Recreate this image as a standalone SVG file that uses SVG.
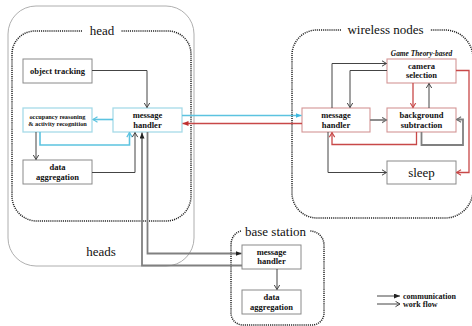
<svg xmlns="http://www.w3.org/2000/svg" width="472" height="326" viewBox="0 0 472 326" font-family="'Liberation Serif', 'DejaVu Serif', 'Times New Roman', serif">
<style>
text{font-family:'Liberation Serif','DejaVu Serif','Times New Roman',serif;fill:#111}
.lbl{font-size:8.5px;font-weight:bold;text-anchor:middle}
.sm{font-size:6.3px;font-weight:bold;text-anchor:middle}
.big{font-size:13px;text-anchor:middle}
.leg{font-size:8px;font-weight:bold}
.gb{fill:#fff;stroke:#8a8a8a;stroke-width:1}
.bb{fill:#fff;stroke:#a6dbe8;stroke-width:1.3}
.pb{fill:#fff;stroke:#d49595;stroke-width:1.1}
.dot{fill:none;stroke:#222;stroke-width:1.5;stroke-dasharray:1.1 1}
.wf{fill:none;stroke:#444;stroke-width:1}
.th{fill:none;stroke:#808080;stroke-width:1.8}
.bl{fill:none;stroke:#5cc3e0;stroke-width:1.6}
.rd{fill:none;stroke:#c84848;stroke-width:1.3}
</style>
<defs>
<marker id="oD" markerUnits="userSpaceOnUse" markerWidth="6" markerHeight="7" refX="5" refY="3.5" orient="auto"><path d="M0.5,0.8 L5,3.5 L0.5,6.2" fill="none" stroke="#444" stroke-width="1"/></marker>
<marker id="oG" markerUnits="userSpaceOnUse" markerWidth="6" markerHeight="7" refX="5" refY="3.5" orient="auto"><path d="M0.5,0.8 L5,3.5 L0.5,6.2" fill="none" stroke="#707070" stroke-width="1.1"/></marker>
<marker id="oB" markerUnits="userSpaceOnUse" markerWidth="6" markerHeight="7" refX="5" refY="3.5" orient="auto"><path d="M0.5,0.8 L5,3.5 L0.5,6.2" fill="none" stroke="#5cc3e0" stroke-width="1.2"/></marker>
<marker id="oR" markerUnits="userSpaceOnUse" markerWidth="6" markerHeight="7" refX="5" refY="3.5" orient="auto"><path d="M0.5,0.8 L5,3.5 L0.5,6.2" fill="none" stroke="#c84848" stroke-width="1.1"/></marker>
<marker id="fD" markerUnits="userSpaceOnUse" markerWidth="6" markerHeight="6" refX="6" refY="2.5" orient="auto"><path d="M0,0 L6,2.5 L0,5 z" fill="#222"/></marker>
<marker id="fB" markerUnits="userSpaceOnUse" markerWidth="6" markerHeight="6" refX="6" refY="2.5" orient="auto"><path d="M0,0 L6,2.5 L0,5 z" fill="#3bb8e0"/></marker>
<marker id="fR" markerUnits="userSpaceOnUse" markerWidth="6" markerHeight="6" refX="6" refY="2.5" orient="auto"><path d="M0,0 L6,2.5 L0,5 z" fill="#c03030"/></marker>
</defs>

<g id="heads">
<rect x="8" y="6" width="186" height="260" rx="28" fill="none" stroke="#9a9a9a" stroke-width="0.8"/>
<text class="big" x="101" y="256">heads</text>
</g>
<g id="head">
<path class="dot" d="M82 31 H35 A23 23 0 0 0 12 54 V196 A25 25 0 0 0 37 221 H166 A25 25 0 0 0 191 196 V54 A23 23 0 0 0 168 31 H121"/>
<text class="big" x="102" y="35">head</text>
</g>
<g id="wireless-nodes">
<path class="dot" d="M341 30 H317 A25 25 0 0 0 292 55 V193 A25 25 0 0 0 317 218 H445 A28 28 0 0 0 473 190 V58 A28 28 0 0 0 445 30 H430"/>
<text class="big" x="385.5" y="34">wireless nodes</text>
</g>
<g id="base-station">
<path class="dot" d="M241 231 A12 14 0 0 0 231 245 V313 A12 12 0 0 0 243 325 H312 A12 12 0 0 0 324 313 V245 A14 14 0 0 0 310 231"/>
<text class="big" x="275.5" y="236">base station</text>
</g>

<g id="object-tracking">
<rect class="gb" x="23" y="59" width="69" height="24"/>
<text class="lbl" x="57.5" y="74">object tracking</text>
</g>
<g id="head-message-handler">
<rect class="bb" x="113" y="108" width="69" height="24"/>
<text class="lbl" x="147.5" y="118">message</text>
<text class="lbl" x="147.5" y="127.5">handler</text>
</g>
<g id="occupancy-reasoning">
<rect class="bb" x="23" y="108" width="69" height="24"/>
<text class="sm" x="57.5" y="119">occupancy reasoning</text>
<text class="sm" x="57.5" y="125.5">&amp; activity recognition</text>
</g>
<g id="head-data-aggregation">
<rect class="gb" x="23" y="160" width="69" height="24"/>
<text class="lbl" x="57.5" y="169.5">data</text>
<text class="lbl" x="57.5" y="179.5">aggregation</text>
</g>

<g id="wireless-message-handler">
<rect class="pb" x="302" y="108" width="68" height="24"/>
<text class="lbl" x="336" y="118">message</text>
<text class="lbl" x="336" y="127.5">handler</text>
</g>
<g id="camera-selection">
<text x="421.5" y="56" style="font-size:7.4px;font-weight:bold;font-style:italic;text-anchor:middle">Game Theory-based</text>
<rect class="pb" x="387" y="59" width="69" height="24"/>
<text class="lbl" x="421.5" y="69">camera</text>
<text class="lbl" x="421.5" y="78">selection</text>
</g>
<g id="background-subtraction">
<rect class="pb" x="387" y="108" width="69" height="24"/>
<text class="lbl" x="421.5" y="118">background</text>
<text class="lbl" x="421.5" y="127.5">subtraction</text>
</g>
<g id="sleep">
<rect class="gb" x="387" y="161" width="69" height="23"/>
<text class="big" x="421.5" y="177">sleep</text>
</g>

<g id="base-message-handler">
<rect class="gb" x="242" y="245" width="59" height="24"/>
<text class="lbl" x="271.5" y="255">message</text>
<text class="lbl" x="271.5" y="263.5">handler</text>
</g>
<g id="base-data-aggregation">
<rect class="gb" x="242" y="290" width="59" height="24"/>
<text class="lbl" x="271.5" y="300">data</text>
<text class="lbl" x="271.5" y="309.5">aggregation</text>
</g>

<g id="connectors">
<path class="wf" d="M92 70.5 H147 V107.5" marker-end="url(#oD)"/>
<path class="bl" d="M113 119.5 H93" marker-end="url(#oB)"/>
<path class="bl" d="M40 132 V145 H129.5 V132.6" marker-end="url(#oB)"/>
<path class="wf" d="M36 132 V159.5" marker-end="url(#oD)"/>
<path class="wf" d="M92 172.5 H135 V132.6" stroke="#555" marker-end="url(#oD)"/>
<path class="th" d="M242 265.5 H142 V132.6" marker-end="url(#fD)"/>
<path class="th" d="M147.5 132 V253.5 H241.5" marker-end="url(#fD)"/>
<path class="bl" d="M182 115.5 H301.5" marker-end="url(#fB)"/>
<path class="rd" d="M302 123.5 H182.5" marker-end="url(#fR)"/>
<path class="wf" d="M332 108 V63.5 H386.5" marker-end="url(#oD)"/>
<path class="wf" d="M387 70.5 H350 V107.5" marker-end="url(#oD)"/>
<path class="rd" d="M413 83 V107.5" marker-end="url(#oR)"/>
<path class="wf" d="M429 108 V83.5" marker-end="url(#oD)"/>
<path class="th" d="M370 120 H386.5" marker-end="url(#oG)"/>
<path class="rd" d="M456 70.5 H469 V172.5 H456.5" marker-end="url(#oR)"/>
<path class="rd" d="M416.5 132 V144.5 H332 V132.6" marker-end="url(#oR)"/>
<path class="th" d="M421.5 132 V145 H463 V119.5 H456.6" marker-end="url(#oG)"/>
<path class="wf" d="M328 132 V172.5 H386.5" marker-end="url(#oD)"/>
<path class="wf" d="M277 269 V289.5" stroke="#555" marker-end="url(#oD)"/>
</g>

<g id="legend">
<path class="wf" d="M377 296 H400" stroke="#222" marker-end="url(#fD)"/>
<path class="wf" d="M377 304 H400" stroke="#222" marker-end="url(#oD)"/>
<text class="leg" x="403" y="298.5">communication</text>
<text class="leg" x="403" y="306.5">work flow</text>
</g>
</svg>
